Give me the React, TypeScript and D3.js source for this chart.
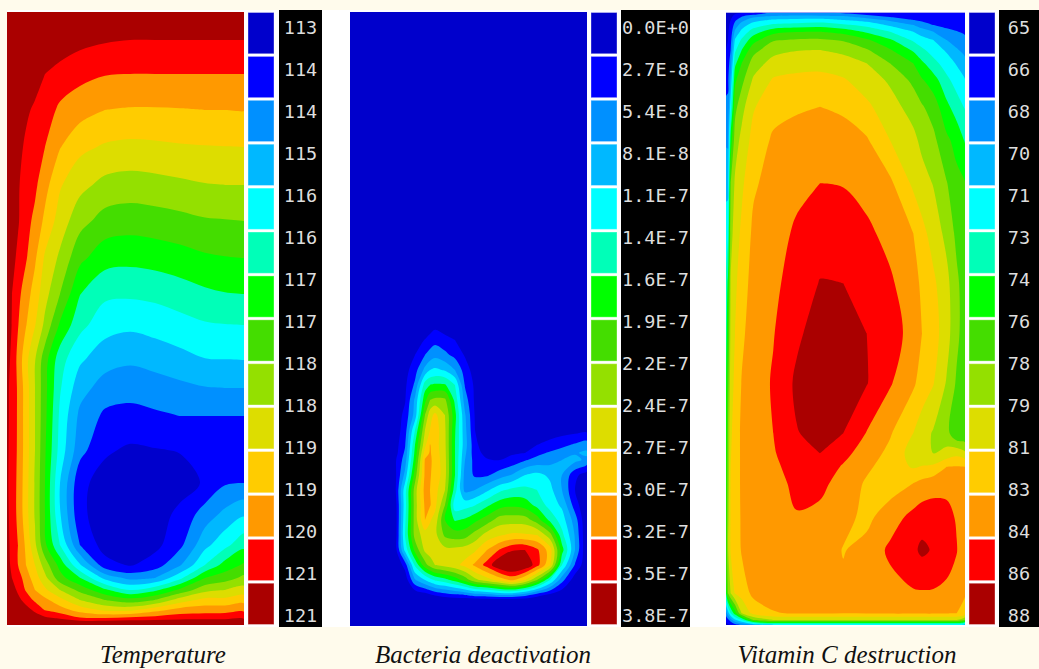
import React from 'react';
import * as d3 from 'd3';

// colour bands, low to high, same for the three panels
const bandColors = ['#0000cc', '#0000ff', '#0090ff', '#00b8ff', '#00ffff', '#00ffb8', '#00ff00', '#44dd00', '#94e000', '#dddd00', '#ffcc00', '#ff9900', '#ff0000', '#aa0000'];
const levels = d3.range(1, bandColors.length);

const tempLabels = ['113', '114', '114', '115', '116', '116', '117', '117', '118', '118', '119', '119', '120', '121', '121'];
const bactLabels = ['0.0E+0', '2.7E-8', '5.4E-8', '8.1E-8', '1.1E-7', '1.4E-7', '1.6E-7', '1.9E-7', '2.2E-7', '2.4E-7', '2.7E-7', '3.0E-7', '3.2E-7', '3.5E-7', '3.8E-7'];
const vitLabels = ['65', '66', '68', '70', '71', '73', '74', '76', '78', '79', '81', '83', '84', '86', '88'];

// field samples in band units; tempX / tempY say where each sample sits
const tempX = [7, 12, 18, 26, 35, 45, 60, 80, 105, 130, 155, 180, 205, 225, 244];
const tempY = [12, 40, 74, 110, 147, 185, 221, 258, 294, 325, 360, 388, 416, 450, 483, 515, 545, 565, 578, 590, 600, 610, 618, 625];
const tempRows = [
  [14.5, 14.5, 14.5, 14.5, 14.5, 14.5, 14.5, 14.5, 14.5, 14.5, 14.5, 14.5, 14.5, 14.5, 14.5],
  [14.5, 14.5, 14.5, 14.4, 14.2, 14, 13.6, 13.3, 13.1, 13, 13, 13, 13, 13, 13],
  [14.5, 14.5, 14.2, 13.8, 13.4, 13, 12.65, 12.3, 12.05, 12, 12, 12, 12, 12, 12],
  [14.5, 14, 13.6, 13.15, 12.85, 12.5, 11.8, 11.4, 11, 10.92, 10.92, 10.95, 11, 11, 11.03],
  [14.5, 13.7, 13.25, 12.85, 12.5, 12, 11.05, 10.25, 9.88, 9.75, 9.8, 9.9, 9.95, 9.98, 10],
  [14.5, 13.6, 13.1, 12.6, 12.2, 11.35, 10.1, 9.3, 8.7, 8.55, 8.65, 8.8, 8.95, 9, 9],
  [14.3, 13.5, 13.1, 12.35, 11.75, 10.75, 9.55, 8.35, 7.6, 7.45, 7.55, 7.7, 7.9, 7.95, 8],
  [14, 13.3, 12.8, 12.1, 11.15, 9.85, 8.8, 7.25, 6.4, 6.28, 6.4, 6.6, 6.85, 6.95, 7],
  [13.8, 13, 12.3, 11.45, 10.55, 9.35, 8, 6.03, 5.2, 5.15, 5.25, 5.5, 5.8, 5.95, 6],
  [13.6, 12.95, 12.05, 11.05, 10.05, 8.75, 6.85, 5.3, 4.4, 4.2, 4.4, 4.65, 4.9, 4.97, 5],
  [13.3, 12.8, 11.7, 10.3, 9.05, 7.4, 5.4, 4.15, 3.4, 3.15, 3.35, 3.65, 3.95, 3.98, 4],
  [13.2, 12.7, 11.85, 10.5, 9, 7.3, 5.1, 3.4, 2.55, 2.38, 2.55, 2.75, 2.95, 3, 3],
  [13.2, 12.7, 11.85, 10.5, 9, 7.25, 4.8, 2.75, 1.8, 1.67, 1.83, 2, 2, 2, 2],
  [13.2, 12.6, 11.85, 10.5, 9, 7.1, 4.6, 2.35, 1.15, 0.85, 0.95, 1.05, 1.1, 1.5, 1.55],
  [13.2, 12.5, 11.8, 10.4, 8.9, 7, 4, 1.25, 0.6, 0.55, 0.6, 0.6, 1.1, 1.9, 2],
  [13.3, 12.5, 11.8, 10.4, 8.9, 7, 4.1, 1.2, 0.55, 0.5, 0.55, 1.25, 2.5, 3.3, 3.9],
  [13.4, 12.6, 12, 10.8, 9.2, 7.2, 5, 2, 0.55, 0.5, 0.7, 1.75, 3.7, 4.7, 5.7],
  [13.5, 12.7, 12, 11, 10, 8.5, 6.65, 4.1, 1.4, 0.9, 1.5, 2.9, 5, 6.4, 7.15],
  [13.8, 13, 12.5, 11.5, 10.5, 9.3, 7.4, 6.05, 3.7, 2.7, 3, 4.75, 7, 7.55, 8.25],
  [14, 13.5, 12.8, 11.9, 11, 10.2, 9, 7.7, 6.2, 5, 5.75, 7.25, 8.7, 9, 9.4],
  [14.3, 13.8, 13.3, 12.6, 11.8, 11.25, 10.35, 9, 8, 7.4, 8, 9.5, 10.3, 10.3, 10.6],
  [14.5, 14.2, 14, 13.4, 12.8, 11.95, 11.45, 10.6, 9.8, 9.75, 10.65, 11.4, 11.55, 11.6, 11.8],
  [14.5, 14.5, 14.4, 14, 13.5, 13.2, 12.85, 12.1, 12, 12.25, 12.4, 12.6, 12.65, 12.7, 12.75],
  [14.5, 14.5, 14.5, 14.5, 14.5, 14.5, 14.5, 14.5, 14.5, 14.5, 14.5, 14.5, 14.5, 14.5, 14.5],
];

const bactX = [350, 395, 405, 415, 425, 430, 435, 445, 455, 465, 475, 487, 500, 512, 525, 537, 550, 562, 575, 587];
const bactY = [12, 320, 325, 340, 355, 370, 385, 400, 415, 430, 445, 453, 460, 475, 490, 505, 520, 535, 550, 565, 580, 595, 601, 626];
const bactRows = [
  [0, 0, 0, 0, 0, 0, 0, 0, 0, 0, 0, 0, 0, 0, 0, 0, 0, 0, 0, 0],
  [0, 0, 0, 0, 0, 0, 0, 0, 0, 0, 0, 0, 0, 0, 0, 0, 0, 0, 0, 0],
  [0, 0, 0, 0, 0.1, 0.4, 0.7, 0.35, 0.1, 0, 0, 0, 0, 0, 0, 0, 0, 0, 0, 0],
  [0, 0, 0.1, 0.5, 1.05, 1.4, 1.65, 1.35, 1, 0.4, 0, 0, 0, 0, 0, 0, 0, 0, 0, 0],
  [0, 0, 0.3, 1, 2, 2.4, 2.7, 2.25, 1.7, 0.9, 0.2, 0, 0, 0, 0, 0, 0, 0, 0, 0],
  [0, 0.1, 0.6, 1.6, 3.3, 4, 4.2, 3.9, 3, 1.5, 0.5, 0, 0, 0, 0, 0, 0, 0, 0, 0],
  [0, 0.1, 0.8, 2.2, 5.5, 6, 6.15, 6.1, 5, 1.9, 0.8, 0.1, 0, 0, 0, 0, 0, 0, 0, 0],
  [0, 0.2, 0.9, 3.2, 6.7, 8, 8.3, 8.2, 5.7, 2.5, 0.8, 0.1, 0, 0, 0, 0, 0, 0, 0, 0],
  [0, 0.3, 1.3, 3.4, 8, 9.6, 10.25, 9, 6.3, 3.1, 0.9, 0.1, 0, 0, 0, 0, 0, 0, 0.1, 0.2],
  [0, 0.4, 1.5, 5, 9, 10, 10.6, 9.15, 6.1, 3.3, 1, 0.3, 0.1, 0.1, 0.15, 0.3, 0.4, 0.5, 0.6, 0.7],
  [0, 0.5, 1.9, 6, 9.75, 11.05, 10.5, 9.2, 6, 3.4, 1.3, 0.2, 0.2, 0.5, 0.75, 1, 1.35, 1.75, 2.15, 2.5],
  [0, 0.55, 2.2, 6.3, 10.5, 11.1, 10.6, 9.25, 6, 3.2, 1.4, 0.65, 0.5, 0.85, 1, 1.7, 2.15, 2.5, 2.9, 3.2],
  [0, 0.8, 2.5, 6.6, 11.1, 11.15, 10.7, 9.3, 6, 3, 1.6, 1.1, 1, 1.35, 1.9, 2.35, 2.6, 3, 3.3, 2.75],
  [0, 0.7, 3.3, 7.5, 11.2, 11.05, 10.8, 9.3, 6, 2.6, 1.85, 1.85, 2.5, 3.05, 4, 4.3, 3.8, 3, 1.3, 0.4],
  [0, 0.7, 4.6, 8.5, 11.4, 11, 10.4, 9, 5.4, 2.7, 3, 3.8, 4.8, 5.25, 5.3, 5, 4.3, 3, 1, 0],
  [0, 0.4, 4.6, 8.5, 11.2, 11.1, 10.3, 8, 4.4, 4.6, 4.95, 5.8, 6.6, 6.8, 6.55, 5.7, 4.6, 3.8, 1.5, 0],
  [0, 0.3, 4.8, 8.5, 11, 10.1, 9.6, 7, 5.9, 6.15, 6.75, 7.5, 8.5, 8.55, 8.5, 7.5, 5.75, 4.5, 2.5, 0],
  [0, 0.3, 5, 8.4, 9.5, 9.6, 9.3, 7.8, 7.5, 7.6, 8.4, 9.4, 9.9, 10.2, 10.15, 10, 8.4, 5.3, 2.9, 0],
  [0, 0.4, 4.3, 7.3, 9.2, 9.5, 9.5, 9.3, 9.3, 9.5, 9.85, 11, 12.1, 12.9, 13, 12.2, 10.5, 6.4, 3, 0],
  [0, 0, 1.4, 5.2, 7.6, 8.4, 9, 9.35, 9.7, 10.3, 11.2, 12.4, 14, 14.5, 14, 12.4, 10.1, 5, 1.9, 0.2],
  [0, 0, 0.3, 2.9, 4, 4.6, 5.1, 5.6, 6.4, 7.4, 8.7, 9.5, 10.4, 11.2, 10, 8, 5, 2.35, 0.4, 0],
  [0, 0, 0, 0.1, 0.5, 0.8, 1.1, 1.5, 1.8, 2, 2.5, 2.6, 3, 3, 2.4, 1.4, 0.7, 0.2, 0, 0],
  [0, 0, 0, 0, 0, 0, 0, 0, 0, 0, 0, 0, 0, 0, 0, 0, 0, 0, 0, 0],
  [0, 0, 0, 0, 0, 0, 0, 0, 0, 0, 0, 0, 0, 0, 0, 0, 0, 0, 0, 0],
];

// vitamin C was easier to read column by column, so it is kept that way
const vitX = [726, 728, 730.7, 735, 741.7, 753.3, 773.3, 796.7, 820, 843.3, 866.7, 890, 913.3, 922, 933.3, 946.7, 956.7, 965];
const vitY = [12.7, 16, 20, 25, 31.7, 40, 50, 63.3, 80, 106.7, 140, 183.3, 233.3, 283.3, 333.3, 383.3, 433.3, 453.3, 466.7, 483.3, 516.7, 550, 593.3, 613.3, 620, 625];
const vitCols = [
  [0.3, 0.4, 0.5, 0.6, 0.7, 0.8, 1, 1.3, 1.7, 2.2, 2.85, 3.7, 4.5, 5.15, 5.5, 5.9, 6.2, 6.3, 6.4, 6.5, 6.6, 6.8, 6, 2.5, 1.3, 0.5],
  [0.5, 0.6, 0.7, 0.8, 0.9, 1, 1.2, 1.5, 1.8, 2.2, 2.85, 3.6, 4.8, 6.25, 7, 7.6, 8.1, 8.25, 8.35, 8.45, 8.7, 8.9, 8, 3.5, 1.7, 0.8],
  [0.6, 0.8, 1, 1.2, 1.4, 1.7, 2, 2.6, 3.3, 4.6, 6.4, 8, 8.6, 9.1, 9.3, 9.6, 9.85, 9.95, 10, 10.1, 10.1, 10.1, 9, 5, 2.5, 1],
  [0.8, 1.2, 1.8, 2.4, 3.2, 4.1, 4.8, 5.75, 6.8, 7.7, 8.5, 9.15, 9.5, 9.8, 10, 10.2, 10.4, 10.4, 10.4, 10.4, 10.4, 10.3, 10.05, 6.5, 3.8, 1.5],
  [0.9, 1.85, 2.65, 3.5, 4.3, 5.15, 6, 7, 7.7, 8.65, 9.3, 9.8, 10.2, 10.5, 10.8, 11.05, 11.2, 11.2, 11.2, 11.2, 11.15, 11.1, 10.4, 9, 5, 2],
  [0.9, 2.6, 3.6, 4.5, 5.5, 6.6, 7.65, 8.45, 9.15, 9.9, 10.35, 10.85, 11.2, 11.4, 11.5, 11.5, 11.5, 11.5, 11.5, 11.5, 11.5, 11.4, 11.25, 10.3, 8, 3],
  [2.2, 3, 4.15, 5.2, 6.65, 7.9, 8.65, 9.4, 10.1, 10.65, 11.15, 11.4, 11.6, 11.8, 11.95, 12.1, 12, 11.9, 11.8, 11.7, 11.6, 11.5, 11.3, 10.95, 9, 4],
  [2.4, 3.1, 4.3, 5.4, 6.95, 8.1, 8.95, 9.65, 10.25, 10.9, 11.3, 11.75, 12.15, 12.4, 12.8, 13.2, 12.95, 12.7, 12.4, 12.2, 11.95, 11.7, 11.3, 11.05, 9, 4],
  [2.2, 3.1, 4.4, 5.6, 7, 8.15, 9, 9.7, 10.3, 11, 11.4, 12, 12.5, 13.05, 13.5, 13.6, 13.3, 13, 12.6, 12.2, 11.8, 11.6, 11.3, 11.1, 9, 4],
  [1.8, 3, 4, 5.2, 6.65, 7.9, 8.75, 9.45, 10.1, 10.85, 11.35, 11.95, 12.55, 13, 13.4, 13.5, 13, 12.3, 11.9, 11.7, 11.3, 10.95, 11.2, 11, 9, 4],
  [1.4, 2.3, 3.6, 4.7, 5.85, 7.15, 8.1, 9, 9.5, 10.2, 11.1, 11.65, 12.2, 12.6, 13, 13.05, 11.95, 11.5, 11.2, 10.85, 10.75, 11.3, 11.4, 11.05, 9, 4],
  [1.3, 1.7, 2.8, 3.8, 5, 6.15, 7.1, 8, 8.85, 9.4, 10, 11.2, 11.7, 12.15, 12.5, 12.1, 11.1, 10.75, 10.5, 10.5, 11.5, 12.2, 11.6, 11.1, 9, 4],
  [1.2, 1.5, 2, 3, 4, 4.85, 5.85, 7, 7.75, 8.6, 9.25, 9.8, 11, 11.4, 11.6, 11.15, 10, 9.55, 9.9, 11, 12.3, 12.8, 11.9, 11.1, 9, 4],
  [1.15, 1.4, 1.8, 2.5, 3.5, 4.4, 5.2, 6.2, 7.1, 8.1, 8.75, 9.4, 10.3, 10.8, 11, 10.6, 9.45, 9.25, 10.05, 11.3, 12.55, 13.2, 11.9, 11.1, 9, 4],
  [1.1, 1.3, 1.6, 2, 3, 4, 4.55, 5.35, 6.45, 7.55, 8.25, 8.95, 9.6, 10.2, 10.45, 10.05, 8.9, 9, 10.2, 11.6, 12.5, 12.9, 11.9, 11.1, 9, 4],
  [1.1, 1.2, 1.4, 1.7, 2.3, 3, 3.85, 4.5, 5.25, 6.25, 7.2, 8.05, 8.7, 9.3, 9.4, 8.9, 8.4, 9.3, 11, 11.7, 12.3, 12.6, 11.7, 11.05, 9, 4],
  [1.1, 1.15, 1.3, 1.5, 2.05, 2.6, 3.1, 3.9, 4.55, 5.5, 6.65, 7.3, 7.75, 8.2, 8.25, 7.85, 7.05, 9.7, 11.05, 11.3, 11.9, 12.05, 11.5, 11, 9, 4],
  [1.1, 1.15, 1.2, 1.4, 1.8, 2.3, 2.7, 3.3, 4.05, 4.9, 5.9, 7.05, 7.3, 7.5, 7.5, 7.3, 7.05, 9.2, 11, 11.1, 11.2, 11.2, 11.1, 10.5, 8, 3],
];
const vitRows = d3.transpose(vitCols) as number[][];

const captions = ['Temperature', 'Bacteria deactivation', 'Vitamin C destruction'];

const panels = [
  { id: 'temp', gridX: tempX, gridY: tempY, rows: tempRows, labels: tempLabels, swatchX: 248, blackX: 279, blackW: 43, caption: captions[0], capX: 163 },
  { id: 'bact', gridX: bactX, gridY: bactY, rows: bactRows, labels: bactLabels, swatchX: 591, blackX: 621, blackW: 69, caption: captions[1], capX: 483 },
  { id: 'vit', gridX: vitX, gridY: vitY, rows: vitRows, labels: vitLabels, swatchX: 969, blackX: 999, blackW: 40, caption: captions[2], capX: 847 },
];

// sample i sits at contour coordinate i + 0.5, the outer half cell is pinned to the edge
const gridScale = (pos: number[]) => {
  const domain = [0, ...pos.map((_, i) => i + 0.5), pos.length];
  const range = [pos[0], ...pos, pos[pos.length - 1]];
  return d3.scaleLinear().domain(domain).range(range);
};

const swatchScale = d3.scaleBand<number>().domain(d3.range(bandColors.length)).range([12.5, 624.5]).paddingInner(0.06);
const labelScale = d3.scalePoint<number>().domain(d3.range(15)).range([27, 615]);
const ringLine = d3.line().curve(d3.curveCatmullRomClosed.alpha(0.5));

const Panel = ({ p }: { p: typeof panels[number] }) => {
  const n = p.gridX.length;
  const m = p.gridY.length;
  const sx = gridScale(p.gridX);
  const sy = gridScale(p.gridY);
  const bands = d3.contours().size([n, m]).thresholds(levels)(p.rows.flat());
  // every ring goes through a curve so the coarse grid does not show as facets
  const bandPath = (b: d3.ContourMultiPolygon) => b.coordinates
    .flatMap(poly => poly.map(ring => ringLine(ring.slice(0, -1).map(([x, y]) => [sx(x), sy(y)] as [number, number]))))
    .join('');
  const x0 = p.gridX[0];
  const y0 = p.gridY[0];
  const w = p.gridX[n - 1] - x0;
  const h = p.gridY[m - 1] - y0;
  return (
    <g>
      <clipPath id={`clip-${p.id}`}><rect x={x0} y={y0} width={w} height={h} /></clipPath>
      <rect x={x0} y={y0} width={w} height={h} fill={bandColors[0]} />
      <g clipPath={`url(#clip-${p.id})`}>
        {bands.map((b, i) => <path key={i} d={bandPath(b)} fill={bandColors[i + 1]} fillRule="evenodd" />)}
      </g>
      {bandColors.map((c, i) => (
        <rect key={i} x={p.swatchX} y={swatchScale(i)} width={26} height={swatchScale.bandwidth()} fill={c} stroke="#fff" strokeOpacity={0.35} />
      ))}
      <rect x={p.blackX} y={10} width={p.blackW} height={617} fill="#000" />
      {p.labels.map((t, i) => (
        <text key={i} x={p.blackX + p.blackW / 2} y={labelScale(i)! + 7} textAnchor="middle" fontFamily="'DejaVu Sans Mono', monospace" fontSize={18.5} fill="#ddd">{t}</text>
      ))}
      <text x={p.capX} y={663} textAnchor="middle" fontFamily="'Liberation Serif', serif" fontStyle="italic" fontSize={25} fill="#111">{p.caption}</text>
    </g>
  );
};

export default function App() {
  return (
    <svg width={1039} height={669} style={{ position: 'absolute', left: 0, top: 0 }}>
      <rect width={1039} height={669} fill="#fffbec" />
      <rect x={7} y={10} width={1032} height={617} fill="#fff" />
      {panels.map((p, i) => <Panel key={i} p={p} />)}
    </svg>
  );
}
